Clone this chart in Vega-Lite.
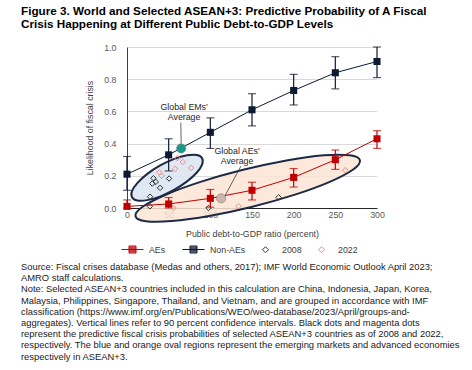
{
  "$schema": "https://vega.github.io/schema/vega-lite/v6.json",
  "padding": {"left": 21, "top": 6, "right": 5, "bottom": 5},
  "background": "white",
  "title": {
    "text": [
      "Source: Fiscal crises database (Medas and others, 2017); IMF World Economic Outlook April 2023;",
      "AMRO staff calculations.",
      "Note: Selected ASEAN+3 countries included in this calculation are China, Indonesia, Japan, Korea,",
      "Malaysia, Philippines, Singapore, Thailand, and Vietnam, and are grouped in accordance with IMF",
      "classification (https://www.imf.org/en/Publications/WEO/weo-database/2023/April/groups-and-",
      "aggregates). Vertical lines refer to 90 percent confidence intervals. Black dots and magenta dots",
      "represent the predictive fiscal crisis probabilities of selected ASEAN+3 countries as of 2008 and 2022,",
      "respectively. The blue and orange oval regions represent the emerging markets and advanced economies",
      "respectively in ASEAN+3."
    ],
    "orient": "bottom", "anchor": "start", "frame": "bounds",
    "font": "Liberation Sans", "fontSize": 9.4, "fontWeight": "normal", "color": "#1a1a1a",
    "lineHeight": 11.2, "offset": 8, "baseline": "top"
  },
  "datasets": {
    "series": [
      {"series": "Non-AEs", "x": 0, "y": 0.21, "lo": 0.11, "hi": 0.32},
      {"series": "Non-AEs", "x": 50, "y": 0.33, "lo": 0.23, "hi": 0.43},
      {"series": "Non-AEs", "x": 100, "y": 0.47, "lo": 0.37, "hi": 0.56},
      {"series": "Non-AEs", "x": 150, "y": 0.61, "lo": 0.51, "hi": 0.71},
      {"series": "Non-AEs", "x": 200, "y": 0.73, "lo": 0.64, "hi": 0.83},
      {"series": "Non-AEs", "x": 250, "y": 0.84, "lo": 0.74, "hi": 0.94},
      {"series": "Non-AEs", "x": 300, "y": 0.91, "lo": 0.81, "hi": 1.0},
      {"series": "AEs", "x": 0, "y": 0.01, "lo": 0.0, "hi": 0.05},
      {"series": "AEs", "x": 50, "y": 0.025, "lo": 0.0, "hi": 0.065},
      {"series": "AEs", "x": 100, "y": 0.06, "lo": 0.005, "hi": 0.115},
      {"series": "AEs", "x": 150, "y": 0.11, "lo": 0.05, "hi": 0.16},
      {"series": "AEs", "x": 200, "y": 0.19, "lo": 0.13, "hi": 0.245},
      {"series": "AEs", "x": 250, "y": 0.30, "lo": 0.24, "hi": 0.36},
      {"series": "AEs", "x": 300, "y": 0.43, "lo": 0.37, "hi": 0.48}
    ],
    "scatter": [
      {"series": "2008", "x": 31.7, "y": 0.185},
      {"series": "2008", "x": 30.4, "y": 0.152},
      {"series": "2008", "x": 34.5, "y": 0.162},
      {"series": "2008", "x": 39.7, "y": 0.125},
      {"series": "2008", "x": 50.5, "y": 0.183},
      {"series": "2008", "x": 27.7, "y": 0.07},
      {"series": "2008", "x": 27.5, "y": 0.01},
      {"series": "2008", "x": 97.8, "y": 0.0},
      {"series": "2008", "x": 182, "y": 0.066},
      {"series": "2022", "x": 38.8, "y": 0.222},
      {"series": "2022", "x": 41.5, "y": 0.2},
      {"series": "2022", "x": 57.7, "y": 0.243},
      {"series": "2022", "x": 60.5, "y": 0.31},
      {"series": "2022", "x": 67, "y": 0.286},
      {"series": "2022", "x": 77, "y": 0.249},
      {"series": "2022", "x": 55.7, "y": 0.0},
      {"series": "2022", "x": 134, "y": 0.011},
      {"series": "2022", "x": 262, "y": 0.235}
    ],
    "keys": [
      {"series": "AEs"}, {"series": "Non-AEs"}, {"series": "2008"}, {"series": "2022"}
    ],
    "averages": [
      {"group": "EMs", "x": 65, "y": 0.37},
      {"group": "AEs", "x": 113, "y": 0.06}
    ],
    "ellipses": [
      {"oval": "EM", "i": 0, "x": 90.2, "y": 0.309},
      {"oval": "EM", "i": 1, "x": 90.1, "y": 0.270},
      {"oval": "EM", "i": 2, "x": 83.6, "y": 0.219},
      {"oval": "EM", "i": 3, "x": 71.7, "y": 0.164},
      {"oval": "EM", "i": 4, "x": 56.3, "y": 0.112},
      {"oval": "EM", "i": 5, "x": 39.5, "y": 0.071},
      {"oval": "EM", "i": 6, "x": 24.1, "y": 0.049},
      {"oval": "EM", "i": 7, "x": 12.3, "y": 0.047},
      {"oval": "EM", "i": 8, "x": 6.0, "y": 0.067},
      {"oval": "EM", "i": 9, "x": 6.1, "y": 0.106},
      {"oval": "EM", "i": 10, "x": 12.6, "y": 0.156},
      {"oval": "EM", "i": 11, "x": 24.4, "y": 0.212},
      {"oval": "EM", "i": 12, "x": 39.9, "y": 0.264},
      {"oval": "EM", "i": 13, "x": 56.7, "y": 0.305},
      {"oval": "EM", "i": 14, "x": 72.1, "y": 0.327},
      {"oval": "EM", "i": 15, "x": 83.9, "y": 0.329},
      {"oval": "AE", "i": 0, "x": 279.5, "y": 0.297},
      {"oval": "AE", "i": 1, "x": 271.4, "y": 0.239},
      {"oval": "AE", "i": 2, "x": 244.0, "y": 0.164},
      {"oval": "AE", "i": 3, "x": 201.6, "y": 0.083},
      {"oval": "AE", "i": 4, "x": 150.4, "y": 0.008},
      {"oval": "AE", "i": 5, "x": 98.4, "y": -0.050},
      {"oval": "AE", "i": 6, "x": 53.6, "y": -0.081},
      {"oval": "AE", "i": 7, "x": 22.6, "y": -0.082},
      {"oval": "AE", "i": 8, "x": 10.2, "y": -0.051},
      {"oval": "AE", "i": 9, "x": 18.3, "y": 0.006},
      {"oval": "AE", "i": 10, "x": 45.8, "y": 0.081},
      {"oval": "AE", "i": 11, "x": 88.2, "y": 0.162},
      {"oval": "AE", "i": 12, "x": 139.4, "y": 0.237},
      {"oval": "AE", "i": 13, "x": 191.4, "y": 0.295},
      {"oval": "AE", "i": 14, "x": 236.2, "y": 0.327},
      {"oval": "AE", "i": 15, "x": 267.2, "y": 0.327}
    ],
    "notes": [
      {"label": "Global EMs'", "x": 68.5, "y": 0.627},
      {"label": "Average", "x": 68.5, "y": 0.565},
      {"label": "Global AEs'", "x": 132, "y": 0.353},
      {"label": "Average", "x": 132, "y": 0.29}
    ],
    "leaders": [
      {"x": 64.6, "y": 0.53, "xe": 65, "ye": 0.40},
      {"x": 136.7, "y": 0.26, "xe": 118, "ye": 0.08}
    ]
  },
  "vconcat": [
    {
      "width": 250,
      "height": 161,
      "title": {
        "text": ["Figure 3. World and Selected ASEAN+3: Predictive Probability of A Fiscal", "Crisis Happening at Different Public Debt-to-GDP Levels"],
        "orient": "top", "anchor": "start", "frame": "group", "dx": -106,
        "font": "Liberation Sans", "fontSize": 11.7, "fontWeight": "bold",
        "color": "#000000", "lineHeight": 13, "offset": 12
      },
      "layer": [
        {
          "data": {"name": "ellipses"},
          "transform": [{"filter": "datum.oval === 'AE'"}],
          "mark": {"type": "line", "interpolate": "cardinal-closed", "fill": "#fbe5d6", "fillOpacity": 0.85, "stroke": "#1c2a45", "strokeWidth": 2},
          "encoding": {
            "x": {"field": "x", "type": "quantitative", "scale": {"domain": [0, 300], "nice": false},
                  "axis": {"title": "Public debt-to-GDP ratio (percent)", "values": [0, 50, 100, 150, 200, 250, 300], "tickCount": 8, "grid": false}},
            "y": {"field": "y", "type": "quantitative", "scale": {"domain": [0, 1], "nice": false},
                  "axis": {"title": "Likelihood of fiscal crisis", "values": [0, 0.2, 0.4, 0.6, 0.8, 1.0], "tickCount": 8, "format": ".1f", "grid": true, "labelOverlap": false}},
            "order": {"field": "i", "type": "quantitative"}
          }
        },
        {
          "data": {"name": "ellipses"},
          "transform": [{"filter": "datum.oval === 'EM'"}],
          "mark": {"type": "line", "interpolate": "cardinal-closed", "fill": "#dce6f2", "fillOpacity": 0.9, "stroke": "#1c2a45", "strokeWidth": 2},
          "encoding": {
            "x": {"field": "x", "type": "quantitative"},
            "y": {"field": "y", "type": "quantitative"},
            "order": {"field": "i", "type": "quantitative"}
          }
        },
        {
          "data": {"name": "series"},
          "mark": {"type": "line", "strokeWidth": 1},
          "encoding": {
            "x": {"field": "x", "type": "quantitative"},
            "y": {"field": "y", "type": "quantitative"},
            "color": {"field": "series", "type": "nominal", "legend": null,
              "scale": {"domain": ["2008", "2022", "AEs", "Non-AEs"], "range": ["#333333", "#f08a8a", "#c00000", "#0c1a33"]}}
          }
        },
        {
          "data": {"name": "series"},
          "mark": {"type": "rule", "strokeWidth": 1.2},
          "encoding": {
            "x": {"field": "x", "type": "quantitative"},
            "y": {"field": "lo", "type": "quantitative"},
            "y2": {"field": "hi"},
            "color": {"field": "series", "type": "nominal", "legend": null}
          }
        },
        {
          "data": {"name": "series"},
          "mark": {"type": "tick", "orient": "horizontal", "size": 8, "thickness": 1.2},
          "encoding": {
            "x": {"field": "x", "type": "quantitative"},
            "y": {"field": "lo", "type": "quantitative"},
            "color": {"field": "series", "type": "nominal", "legend": null}
          }
        },
        {
          "data": {"name": "series"},
          "mark": {"type": "tick", "orient": "horizontal", "size": 8, "thickness": 1.2},
          "encoding": {
            "x": {"field": "x", "type": "quantitative"},
            "y": {"field": "hi", "type": "quantitative"},
            "color": {"field": "series", "type": "nominal", "legend": null}
          }
        },
        {
          "data": {"name": "scatter"},
          "mark": {"type": "point", "shape": "diamond", "filled": false, "size": 30, "strokeWidth": 1, "opacity": 1},
          "encoding": {
            "x": {"field": "x", "type": "quantitative"},
            "y": {"field": "y", "type": "quantitative"},
            "color": {"field": "series", "type": "nominal", "legend": null}
          }
        },
        {
          "data": {"name": "series"},
          "mark": {"type": "square", "size": 50, "opacity": 1},
          "encoding": {
            "x": {"field": "x", "type": "quantitative"},
            "y": {"field": "y", "type": "quantitative"},
            "color": {"field": "series", "type": "nominal", "legend": null}
          }
        },
        {
          "data": {"name": "averages"},
          "mark": {"type": "circle", "size": 85, "opacity": 1, "stroke": "#8a7a75", "strokeWidth": 0.6},
          "encoding": {
            "x": {"field": "x", "type": "quantitative"},
            "y": {"field": "y", "type": "quantitative"},
            "fill": {"field": "group", "type": "nominal", "scale": {"domain": ["EMs", "AEs"], "range": ["#179a8c", "#cdb5ad"]}, "legend": null}
          }
        },
        {
          "data": {"name": "leaders"},
          "mark": {"type": "rule", "color": "#404040", "strokeWidth": 0.8},
          "encoding": {
            "x": {"field": "x", "type": "quantitative"},
            "y": {"field": "y", "type": "quantitative"},
            "x2": {"field": "xe"},
            "y2": {"field": "ye"}
          }
        },
        {
          "data": {"name": "notes"},
          "mark": {"type": "text", "font": "Liberation Sans", "fontSize": 8.8, "color": "#262626", "align": "center", "baseline": "middle"},
          "encoding": {
            "x": {"field": "x", "type": "quantitative"},
            "y": {"field": "y", "type": "quantitative"},
            "text": {"field": "label"}
          }
        },
        {
          "data": {"name": "keys"},
          "mark": {"type": "point", "opacity": 0, "size": 100, "strokeWidth": 1},
          "encoding": {
            "stroke": {"field": "series", "type": "nominal",
              "scale": {"domain": ["AEs", "Non-AEs", "2008", "2022"], "range": ["#c00000", "#0c1a33", "#333333", "#f08a8a"]},
              "legend": {
                "orient": "bottom", "title": null, "direction": "horizontal", "offset": 5,
                "symbolSize": 100, "symbolStrokeWidth": 1, "symbolOpacity": 1,
                "labelOffset": 11, "columnPadding": 14,
                "labelFont": "Liberation Sans", "labelFontSize": 8.8, "labelColor": "#404040"
              }},
            "shape": {"field": "series", "type": "nominal",
              "scale": {"domain": ["AEs", "Non-AEs", "2008", "2022"], "range": [
                "M-2.2,0H2.2M-0.7,-0.7H0.7M-0.7,-0.5H0.7M-0.7,-0.3H0.7M-0.7,-0.1H0.7M-0.7,0.1H0.7M-0.7,0.3H0.7M-0.7,0.5H0.7M-0.7,0.7H0.7M-0.7,-0.7V0.7M0.7,-0.7V0.7",
                "M-2.2,0H2.2M-0.7,-0.7H0.7M-0.7,-0.5H0.7M-0.7,-0.3H0.7M-0.7,-0.1H0.7M-0.7,0.1H0.7M-0.7,0.3H0.7M-0.7,0.5H0.7M-0.7,0.7H0.7M-0.7,-0.7V0.7M0.7,-0.7V0.7",
                "M0,-0.6L0.6,0L0,0.6L-0.6,0Z",
                "M0,-0.6L0.6,0L0,0.6L-0.6,0Z"]}}
          }
        }
      ]
    }
  ],
  "config": {
    "view": {"stroke": null},
    "font": "Liberation Sans",
    "axis": {
      "labelFont": "Liberation Sans", "titleFont": "Liberation Sans",
      "labelFontSize": 8.8, "titleFontSize": 8.8, "titleFontWeight": "normal",
      "labelColor": "#595959", "titleColor": "#404040",
      "domainColor": "#262626", "domainWidth": 1, "ticks": false,
      "gridColor": "#d9d9d9", "gridWidth": 1
    },
    "axisX": {"labelPadding": 2, "titlePadding": 11, "labelFlush": false},
    "axisY": {"labelPadding": 11, "titlePadding": 9, "domainColor": "#404040", "labelOverlap": false}
  }
}
